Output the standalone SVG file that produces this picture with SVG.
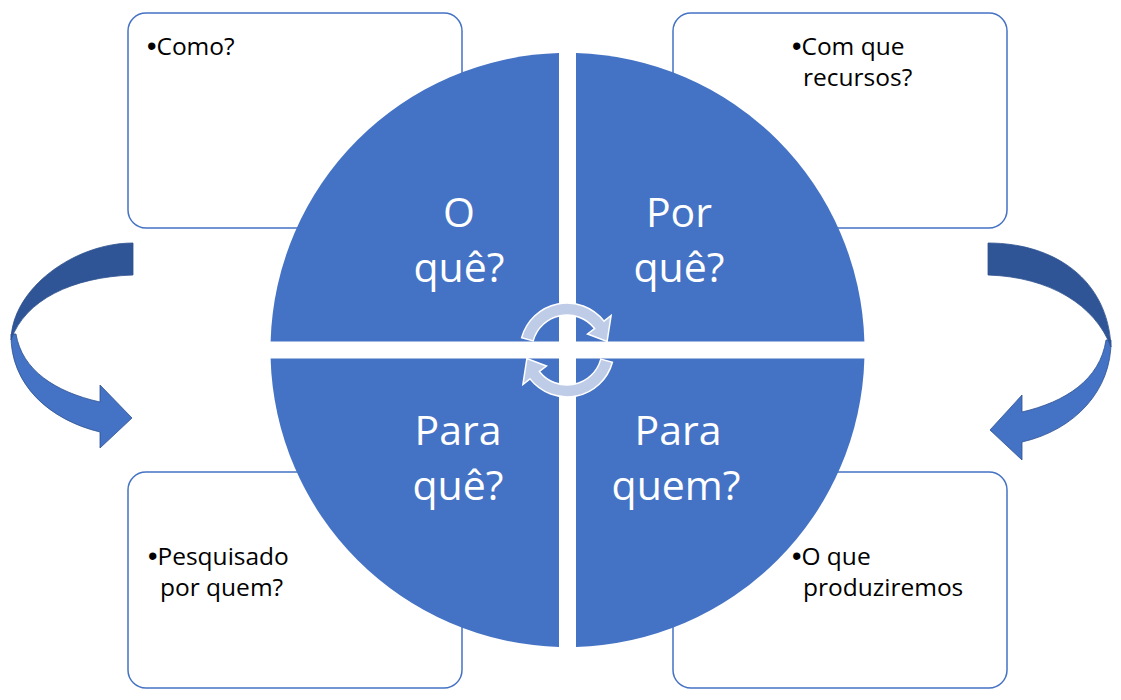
<svg xmlns="http://www.w3.org/2000/svg" width="1121" height="700" viewBox="0 0 1121 700">
<style>
.box{fill:#ffffff;stroke:#4472C4;stroke-width:1.5}
.q{fill:#4472C4}
.big{font-family:"Open Sans","Liberation Sans",sans-serif;font-size:41px;fill:#ffffff;text-anchor:middle}
.small{font-family:"Open Sans","Liberation Sans",sans-serif;font-size:24.5px;fill:#000000}
.bul{font-family:"Liberation Sans",sans-serif;font-size:27px}
.dark{fill:#2F5597;stroke:#2F528F;stroke-width:0.8}
.light{fill:#4472C4;stroke:#2F528F;stroke-width:0.8}
.cyc{fill:#BFCCE7;stroke:#ffffff;stroke-width:1.5}
</style>
<rect width="1121" height="700" fill="#ffffff"/>
<g id="box-tl"><rect class="box" x="128" y="13" width="334" height="215" rx="18"/><text class="small" x="147" y="55"><tspan class="bul">•</tspan>Como?</text></g>
<g id="box-tr"><rect class="box" x="673" y="13" width="334" height="215" rx="18"/><text class="small" x="792" y="55"><tspan class="bul">•</tspan>Com que</text><text class="small" x="803" y="86">recursos?</text></g>
<g id="box-bl"><rect class="box" x="128" y="472" width="334" height="216" rx="18"/><text class="small" x="148" y="565"><tspan class="bul">•</tspan>Pesquisado</text><text class="small" x="160" y="596">por quem?</text></g>
<g id="box-br"><rect class="box" x="673" y="472" width="334" height="216" rx="18"/><text class="small" x="792" y="565"><tspan class="bul">•</tspan>O que</text><text class="small" x="803" y="596">produziremos</text></g>
<g id="q-tl"><path class="q" d="M559,341.5 V53.1 A297,297 0 0 0 270.6,341.5 Z"/><text class="big" x="459" y="227">O</text><text class="big" x="459" y="282">quê?</text></g>
<g id="q-tr"><path class="q" d="M576,341.5 H864.4 A297,297 0 0 0 576,53.1 Z"/><text class="big" x="679" y="227">Por</text><text class="big" x="679" y="282">quê?</text></g>
<g id="q-bl"><path class="q" d="M559,358.5 H270.6 A297,297 0 0 0 559,646.9 Z"/><text class="big" x="458" y="445">Para</text><text class="big" x="458" y="500">quê?</text></g>
<g id="q-br"><path class="q" d="M576,358.5 V646.9 A297,297 0 0 0 864.4,358.5 Z"/><text class="big" x="678" y="445">Para</text><text class="big" x="676" y="500">quem?</text></g>
<g id="connectors">
<path class="cyc" d="M521.6,337.8 A47,47 0 0 1 604.0,321.1 L611.1,315.5 L607.1,341.5 L587.5,334.0 L594.6,328.5 A35,35 0 0 0 533.2,340.9 Z"/>
<path class="cyc" transform="rotate(180 567 350)" d="M521.6,337.8 A47,47 0 0 1 604.0,321.1 L611.1,315.5 L607.1,341.5 L587.5,334.0 L594.6,328.5 A35,35 0 0 0 533.2,340.9 Z"/>
<path class="light" d="M11,334 C10,385 50,420 100,432 L100,448 L132,418 L100,385 L100,402 C55,392 22,370 16,334 Z"/>
<path class="dark" d="M133,243 C75,243 12,288 11,340 C25,300 72,277 133,275 Z"/>
<path class="light" d="M1111,340 C1112,390 1075,430 1022,442 L1022,460 L990,430 L1022,395 L1022,412 C1065,402 1100,380 1106,340 Z"/>
<path class="dark" d="M988,243 C1055,243 1108,280 1111,347 C1095,305 1050,277 988,275 Z"/>
</g>
</svg>
